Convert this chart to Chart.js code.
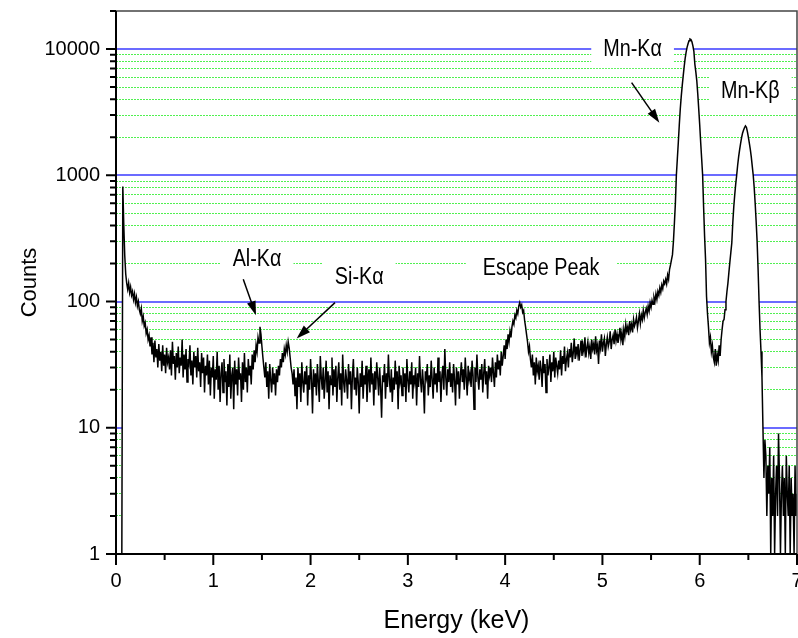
<!DOCTYPE html>
<html>
<head>
<meta charset="utf-8">
<script src="https://cdn.jsdelivr.net/npm/chart.js@4.4.1/dist/chart.umd.min.js"></script>
<style>
  html, body { margin: 0; padding: 0; background: #fff; }
  #wrap { width: 798px; height: 638px; }
</style>
</head>
<body>
<div id="wrap"><canvas id="spec" width="798" height="638"></canvas></div>
<script>
/* ── EDS spectrum, Mn source ─────────────────────────────────────────── */

// channel calibration: first channel energy and width (keV)
const E0 = 0.05;
const STEP = 0.01;

// counts per channel, one row = 0.1 keV
const counts = [
  1, 1, 815, 400, 230, 165, 140, 125, 140, 118,          // 0.05
  130, 112, 120, 104, 115, 98, 108, 92, 100, 86,          // 0.15
  80, 88, 70, 76, 64, 68, 56, 60, 50, 54,                 // 0.25
  44, 52, 38, 47, 33, 49, 36, 42, 30, 46,                 // 0.35
  34, 40, 28, 45, 31, 38, 27, 43, 33, 36,                 // 0.45
  29, 41, 26, 48, 32, 37, 24, 39, 30, 44,                 // 0.55
  27, 36, 31, 50, 25, 38, 29, 42, 23, 35,                 // 0.65
  32, 45, 26, 34, 22, 40, 30, 37, 25, 43,                 // 0.75
  28, 33, 21, 39, 27, 36, 19, 31, 26, 38,                 // 0.85
  22, 34, 18, 30, 25, 37, 17, 29, 24, 40,                 // 0.95
  20, 31, 16, 27, 33, 19, 35, 23, 28, 15,                 // 1.05
  32, 21, 38, 17, 26, 30, 14, 34, 22, 29,                 // 1.15
  18, 36, 24, 27, 16, 33, 20, 39, 23, 30,                 // 1.25
  19, 35, 26, 31, 22, 38, 29, 41, 33, 45,                 // 1.35
  40, 52, 47, 63, 55, 44, 36, 30, 25, 33,                 // 1.45  Al-Ka
  21, 28, 17, 32, 24, 19, 30, 22, 27, 18,                 // 1.55
  29, 23, 31, 26, 35, 30, 39, 33, 42, 38,                 // 1.65
  45, 40, 48, 43, 36, 30, 27, 22, 29, 18,                 // 1.75  Si-Ka
  25, 14, 30, 21, 27, 16, 33, 23, 19, 28,                 // 1.85
  22, 31, 15, 26, 20, 35, 24, 13, 29, 21,                 // 1.95
  27, 18, 32, 23, 16, 37, 25, 20, 30, 17,                 // 2.05
  24, 34, 19, 28, 14, 26, 22, 36, 18, 29,                 // 2.15
  21, 31, 16, 25, 33, 20, 27, 15, 38, 23,                 // 2.25
  19, 29, 24, 17, 32, 22, 28, 14, 26, 35,                 // 2.35
  20, 25, 18, 30, 23, 13, 27, 21, 34, 17,                 // 2.45
  26, 22, 31, 16, 24, 29, 19, 36, 22, 27,                 // 2.55
  15, 28, 20, 33, 25, 18, 30, 21, 12, 26,                 // 2.65
  23, 32, 17, 27, 21, 38, 24, 19, 29, 16,                 // 2.75
  25, 20, 34, 22, 28, 14, 31, 23, 26, 18,                 // 2.85
  30, 21, 27, 16, 35, 24, 19, 28, 22, 33,                 // 2.95
  17, 26, 23, 30, 15, 27, 21, 37, 24, 19,                 // 3.05
  29, 22, 13, 28, 25, 32, 18, 26, 21, 34,                 // 3.15
  24, 17, 30, 22, 27, 19, 36, 23, 28, 16,                 // 3.25
  26, 31, 20, 42, 25, 18, 29, 23, 33, 21,                 // 3.35
  27, 19, 32, 24, 15, 30, 22, 28, 17, 26,                 // 3.45
  33, 23, 29, 20, 36, 25, 18, 31, 24, 27,                 // 3.55
  21, 34, 26, 14, 30, 23, 38, 25, 20, 29,                 // 3.65
  24, 32, 19, 27, 35, 22, 28, 17, 31, 26,                 // 3.75
  30, 23, 36, 27, 21, 33, 25, 38, 29, 34,                 // 3.85
  26, 40, 31, 37, 45, 35, 50, 42, 55, 48,                 // 3.95
  58, 52, 63, 70, 66, 78, 74, 85, 80, 92,                 // 4.05
  98, 90, 94, 82, 85, 71, 63, 55, 48, 40,                 // 4.15  escape
  44, 35, 30, 38, 26, 33, 22, 36, 28, 31,                 // 4.25
  24, 34, 29, 21, 37, 27, 32, 19, 35, 26,                 // 4.35
  30, 38, 23, 33, 28, 40, 25, 36, 31, 27,                 // 4.45
  34, 29, 41, 26, 37, 32, 44, 28, 35, 39,                 // 4.55
  30, 42, 36, 47, 33, 39, 51, 35, 44, 38,                 // 4.65
  46, 34, 41, 49, 37, 45, 40, 52, 36, 43,                 // 4.75
  48, 39, 44, 35, 50, 42, 46, 38, 53, 41,                 // 4.85
  45, 32, 49, 43, 55, 40, 47, 51, 37, 46,                 // 4.95
  52, 44, 48, 58, 42, 50, 54, 46, 60, 49,                 // 5.05
  55, 47, 52, 62, 50, 57, 45, 60, 53, 66,                 // 5.15
  58, 63, 54, 70, 60, 66, 57, 72, 64, 68,                 // 5.25
  75, 62, 70, 80, 67, 78, 72, 85, 74, 82,                 // 5.35
  88, 79, 92, 84, 98, 90, 102, 95, 108, 100,              // 5.45
  115, 104, 120, 112, 128, 118, 135, 126, 145, 138,       // 5.55
  150, 138, 162, 150, 180, 195, 215, 235, 300, 420,       // 5.65
  600, 1000, 1350, 1820, 2500, 3330, 4200, 5100, 6100, 7200,        // 5.75
  8400, 9400, 10300, 11000, 11600, 12000, 11900, 11400, 10600, 9600, // 5.85 Mn-Ka
  7600, 6600, 5600, 4400, 3330, 2500, 1820, 1350, 1000, 560,        // 5.95
  330, 215, 110, 80, 63, 47, 52, 40, 45, 36,              // 6.05
  33, 42, 31, 38, 34, 45, 37, 50, 60, 70,                 // 6.15
  72, 86, 100, 120, 140, 170, 205, 245, 292, 420,         // 6.25
  560, 700, 850, 1000, 1200, 1400, 1590, 1780, 1980, 2150, // 6.35
  2270, 2380, 2460, 2400, 2220, 2000, 1800, 1600, 1400, 1180, // 6.45 Mn-Kb
  1000, 800, 600, 430, 300, 180, 100, 60, 40, 25,         // 6.55
  10, 4, 8, 6, 2, 5, 3, 7, 1, 4,                          // 6.65
  2, 6, 1, 3, 5, 2, 9, 4, 1, 3,                           // 6.75
  5, 2, 4, 1, 6, 3, 2, 5, 1, 4,                           // 6.85
  2, 3, 1, 5, 2, 3                                        // 6.95
];

// axes
const xTicks = [0, 1, 2, 3, 4, 5, 6, 7];
const xMinor = [0.5, 1.5, 2.5, 3.5, 4.5, 5.5, 6.5];
const yMajor = [1, 10, 100, 1000, 10000];
const yMinor = [2, 3, 4, 5, 6, 7, 8, 9,
                20, 30, 40, 50, 60, 70, 80, 90,
                200, 300, 400, 500, 600, 700, 800, 900,
                2000, 3000, 4000, 5000, 6000, 7000, 8000, 9000,
                20000];

// peak labels [energy keV, counts] of text centre
const peakNames = ['Mn-Kα', 'Mn-Kβ', 'Al-Kα', 'Si-Kα', 'Escape Peak'];
const peakLabelAt = [[5.31, 9800], [6.52, 4600], [1.45, 214], [2.50, 154], [4.37, 183]];
// arrows [fromE, fromCounts, toE, toCounts]
const arrows = [
  [5.30, 5410, 5.585, 2606],
  [1.308, 150, 1.439, 78],
  [2.251, 98, 1.857, 51],
];

const FONT = "'Liberation Sans', Arial, Helvetica, sans-serif";
const SQUEEZE = 0.86;

function arrow(ctx, x1, y1, x2, y2) {
  const a = Math.atan2(y2 - y1, x2 - x1), c = Math.cos(a), s = Math.sin(a);
  const L = 14, W = 4.5;
  ctx.beginPath();
  ctx.moveTo(x1, y1);
  ctx.lineTo(x2 - L * 0.7 * c, y2 - L * 0.7 * s);
  ctx.stroke();
  ctx.beginPath();
  ctx.moveTo(x2, y2);
  ctx.lineTo(x2 - L * c + W * s, y2 - L * s - W * c);
  ctx.lineTo(x2 - L * c - W * s, y2 - L * s + W * c);
  ctx.closePath();
  ctx.fill();
}

const decor = {
  id: 'decor',
  beforeDatasetsDraw(chart) {
    // label backgrounds hide the grid behind the text
    const {ctx, scales: {x, y}} = chart;
    ctx.save();
    ctx.font = '23px ' + FONT;
    ctx.fillStyle = '#fff';
    peakNames.forEach((t, i) => {
      const px = x.getPixelForValue(peakLabelAt[i][0]);
      const py = y.getPixelForValue(peakLabelAt[i][1]);
      const w = ctx.measureText(t).width * SQUEEZE + (i === 4 ? 34 : 24);
      ctx.fillRect(px - w / 2, py - 18, w, 36);
    });
    ctx.restore();
  },
  afterDatasetsDraw(chart) {
    const {ctx, chartArea: a, scales: {x, y}} = chart;
    ctx.save();

    // frame
    ctx.strokeStyle = '#444';
    ctx.lineWidth = 1.5;
    ctx.beginPath();
    ctx.moveTo(a.left, a.top); ctx.lineTo(a.right, a.top); ctx.lineTo(a.right, a.bottom);
    ctx.stroke();
    ctx.strokeStyle = '#000';
    ctx.lineWidth = 2;
    ctx.beginPath();
    ctx.moveTo(a.left, a.top); ctx.lineTo(a.left, a.bottom); ctx.lineTo(a.right, a.bottom);
    ctx.stroke();

    // tick marks, outside
    ctx.beginPath();
    yMajor.forEach(v => { const p = y.getPixelForValue(v); ctx.moveTo(a.left - 10, p); ctx.lineTo(a.left, p); });
    yMinor.forEach(v => { const p = y.getPixelForValue(v); ctx.moveTo(a.left - 6, p); ctx.lineTo(a.left, p); });
    xTicks.forEach(v => { const p = x.getPixelForValue(v); ctx.moveTo(p, a.bottom); ctx.lineTo(p, a.bottom + 11); });
    xMinor.forEach(v => { const p = x.getPixelForValue(v); ctx.moveTo(p, a.bottom); ctx.lineTo(p, a.bottom + 6); });
    ctx.stroke();

    // labels
    ctx.fillStyle = '#000';
    ctx.font = '23px ' + FONT;
    ctx.textAlign = 'center';
    ctx.textBaseline = 'middle';
    peakNames.forEach((t, i) => {
      ctx.save();
      ctx.translate(x.getPixelForValue(peakLabelAt[i][0]), y.getPixelForValue(peakLabelAt[i][1]));
      ctx.scale(SQUEEZE, 1);
      ctx.fillText(t, 0, 0);
      ctx.restore();
    });

    // arrows
    ctx.lineWidth = 1.5;
    arrows.forEach(r => arrow(ctx,
      x.getPixelForValue(r[0]), y.getPixelForValue(r[1]),
      x.getPixelForValue(r[2]), y.getPixelForValue(r[3])));

    ctx.restore();
  }
};

const isMajor = v => yMajor.includes(v);

new Chart(document.getElementById('spec'), {
  type: 'line',
  data: {
    datasets: [{
      data: counts.map((c, i) => ({x: +(E0 + i * STEP).toFixed(2), y: c})),
      borderColor: '#000',
      borderWidth: 1.5,
      backgroundColor: '#fff',
      fill: 'start',
      pointRadius: 0,
      tension: 0,
    }],
  },
  options: {
    responsive: false,
    animation: false,
    devicePixelRatio: 1,
    layout: { padding: { top: 11, right: 1, left: 0, bottom: 0 } },
    plugins: { legend: { display: false }, tooltip: { enabled: false } },
    scales: {
      x: {
        type: 'linear', min: 0, max: 7,
        afterBuildTicks: s => { s.ticks = xTicks.map(v => ({value: v})); },
        afterFit: s => { s.height = 84; s.paddingLeft = 0; s.paddingRight = 0; },
        grid: { display: false, drawTicks: false },
        border: { display: false },
        ticks: {
          autoSkip: false, maxRotation: 0, padding: 15, color: '#000',
          font: { family: FONT, size: 20 },
        },
        title: {
          display: true, text: 'Energy (keV)', color: '#000',
          font: { family: FONT, size: 25 }, padding: { top: 0, bottom: 2 },
        },
      },
      y: {
        type: 'logarithmic', min: 1, max: 20000,
        afterBuildTicks: s => {
          s.ticks = yMajor.concat(yMinor).sort((p, q) => p - q).map(v => ({value: v, major: isMajor(v)}));
        },
        afterFit: s => { s.width = 116; s.paddingTop = 0; s.paddingBottom = 0; },
        grid: {
          drawTicks: false,
          color: c => {
            const v = c.tick && c.tick.value;
            if (v === 1 || v === 20000) return 'rgba(0,0,0,0)';
            return isMajor(v) ? '#6b6bff' : 'rgb(80,240,80)';
          },
          lineWidth: c => (c.tick && isMajor(c.tick.value)) ? 2 : 1,
        },
        border: {
          display: false,
          dash: c => (c.tick && isMajor(c.tick.value)) ? [] : [2, 1],
        },
        ticks: {
          autoSkip: false, padding: 16, color: '#000',
          font: { family: FONT, size: 20 },
          callback: v => isMajor(v) ? String(v) : '',
        },
        title: {
          display: true, text: 'Counts', color: '#000',
          font: { family: FONT, size: 22 }, padding: { top: 17, bottom: 0 },
        },
      },
    },
  },
  plugins: [decor],
});
</script>
</body>
</html>
